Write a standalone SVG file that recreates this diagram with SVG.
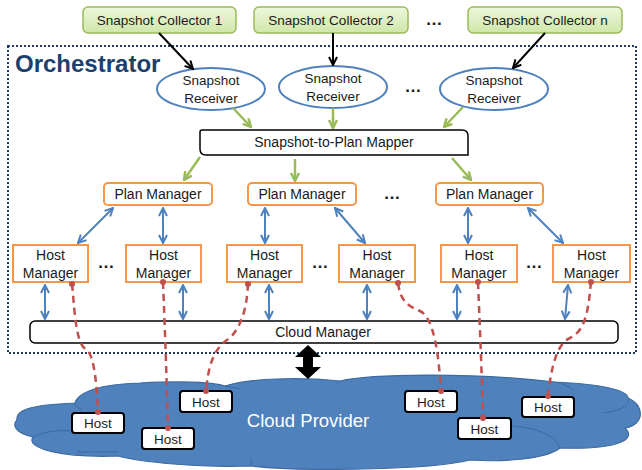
<svg xmlns="http://www.w3.org/2000/svg" width="642" height="470" viewBox="0 0 642 470">
<style>
text{font-family:"Liberation Sans",Arial,sans-serif;fill:#1a1a1a}
.t13{font-size:13.5px;text-anchor:middle}
.t14{font-size:14px;text-anchor:middle}
.col{fill:url(#gg);stroke:#9bbb59;stroke-width:1.5}
.rcv{fill:#fff;stroke:#4f81bd;stroke-width:2}
.pm{fill:#fff;stroke:#f79646;stroke-width:2}
.box{fill:#fff;stroke:#000;stroke-width:1.5}
.host{fill:#fff;stroke:#000;stroke-width:2}
.blk{stroke:#000;stroke-width:2;fill:none;marker-end:url(#mk)}
.grn{stroke:#9bbb59;stroke-width:2.5;fill:none;marker-end:url(#mg)}
.blu{stroke:#4f81bd;stroke-width:2;fill:none;marker-start:url(#mb);marker-end:url(#mb)}
.red{stroke:#c0504d;stroke-width:2.5;fill:none;stroke-dasharray:7 5}
.dot{fill:#c0504d}
.dots{font-size:17px;font-weight:bold;text-anchor:middle}
</style>
<defs>
<linearGradient id="gg" x1="0" y1="0" x2="0" y2="1">
<stop offset="0" stop-color="#eef7dc"/>
<stop offset="1" stop-color="#cfe6a8"/>
</linearGradient>
<marker id="mk" viewBox="0 0 10 10" refX="9" refY="5" markerWidth="10" markerHeight="10" markerUnits="userSpaceOnUse" orient="auto-start-reverse">
<path d="M1,1 L9,5 L1,9" fill="none" stroke="#000" stroke-width="2"/>
</marker>
<marker id="mg" viewBox="0 0 10 10" refX="9" refY="5" markerWidth="10" markerHeight="10" markerUnits="userSpaceOnUse" orient="auto-start-reverse">
<path d="M1,1 L9,5 L1,9" fill="none" stroke="#9bbb59" stroke-width="2.5"/>
</marker>
<marker id="mb" viewBox="0 0 10 10" refX="9" refY="5" markerWidth="10" markerHeight="10" markerUnits="userSpaceOnUse" orient="auto-start-reverse">
<path d="M1,1 L9,5 L1,9" fill="none" stroke="#4f81bd" stroke-width="2"/>
</marker>
</defs>
<rect width="642" height="470" fill="#fff"/>

<!-- Cloud -->
<g id="cloud">
<path d="M17,420 C15,410 30,405 75,403 C78,392 100,384 140,383 C180,381 210,382 225,386 C250,378 300,377 340,381 C370,374 470,372 555,382 C600,384 628,390 628,398 C645,405 645,425 625,428 C638,440 615,450 560,448 C545,460 500,462 470,460 C430,470 300,472 250,466 C200,468 140,462 118,456 C60,458 25,448 33,437 C15,433 12,425 17,420 Z" fill="#4f81bd" stroke="#3d6aa0" stroke-width="1.2"/>
<path d="M33,437 C45,431 60,430 70,431" fill="none" stroke="#3d6aa0" stroke-width="1"/>
<path d="M77,452 L118,452" fill="none" stroke="#3d6aa0" stroke-width="1"/>
<path d="M75,403 C75,406 78,408 82,410" fill="none" stroke="#3d6aa0" stroke-width="1"/>
<path d="M225,386 C230,387 236,388 240,389" fill="none" stroke="#3d6aa0" stroke-width="1"/>
<path d="M340,381 C338,383 338,384 339,385" fill="none" stroke="#3d6aa0" stroke-width="1"/>
<path d="M555,382 C562,384 570,386 573,390" fill="none" stroke="#3d6aa0" stroke-width="1"/>
<path d="M628,398 C630,404 625,410 603,413" fill="none" stroke="#3d6aa0" stroke-width="1"/>
<path d="M513,426 C535,428 555,434 560,448" fill="none" stroke="#3d6aa0" stroke-width="1"/>
<path d="M250,458 C252,462 252,464 250,466" fill="none" stroke="#3d6aa0" stroke-width="1"/>
<text x="308" y="427" style="font-size:18.5px;text-anchor:middle;fill:#fff">Cloud Provider</text>
</g>

<!-- Orchestrator frame -->
<g id="orchestrator">
<rect x="8" y="46" width="628" height="307" fill="none" stroke="#1f3864" stroke-width="2" stroke-dasharray="2 2"/>
<text x="15" y="72" style="font-size:24px;font-weight:bold;fill:#1c3f6e">Orchestrator</text>
</g>

<!-- Snapshot collectors -->
<g id="collector1"><rect class="col" x="83" y="7" width="153" height="26" rx="5"/><text class="t13" x="159.5" y="25">Snapshot Collector 1</text></g>
<g id="collector2"><rect class="col" x="254" y="7" width="154" height="26" rx="5"/><text class="t13" x="331" y="25">Snapshot Collector 2</text></g>
<text class="dots" x="434" y="25">…</text>
<g id="collectorN"><rect class="col" x="468" y="7" width="154" height="26" rx="5"/><text class="t13" x="545" y="25">Snapshot Collector n</text></g>

<!-- Receivers -->
<g id="receiver1"><ellipse class="rcv" cx="211" cy="89" rx="54" ry="21"/><text class="t13" x="211" y="85">Snapshot</text><text class="t13" x="211" y="103">Receiver</text></g>
<g id="receiver2"><ellipse class="rcv" cx="333" cy="87" rx="54" ry="21"/><text class="t13" x="333" y="83">Snapshot</text><text class="t13" x="333" y="101">Receiver</text></g>
<text class="dots" x="413" y="92">…</text>
<g id="receiverN"><ellipse class="rcv" cx="494" cy="89" rx="54" ry="21"/><text class="t13" x="494" y="85">Snapshot</text><text class="t13" x="494" y="103">Receiver</text></g>

<!-- Mapper -->
<g id="mapper"><path class="box" d="M202,130 L462,130 Q468,130 468,136 L468,155 L206,155 Q200,155 200,149 L200,132 Q200,130 202,130 Z"/><text class="t14" x="334" y="147">Snapshot-to-Plan Mapper</text></g>

<!-- Plan managers -->
<g id="pm1"><rect class="pm" x="104" y="183" width="108" height="22" rx="4"/><text class="t14" x="158" y="199">Plan Manager</text></g>
<g id="pm2"><rect class="pm" x="248" y="183" width="108" height="22" rx="4"/><text class="t14" x="302" y="199">Plan Manager</text></g>
<text class="dots" x="392" y="199">…</text>
<g id="pm3"><rect class="pm" x="436" y="183" width="107" height="22" rx="4"/><text class="t14" x="489.5" y="199">Plan Manager</text></g>

<!-- Host managers -->
<g id="hm1"><rect class="pm" x="13" y="245" width="75" height="37"/><text class="t14" x="50.5" y="260">Host</text><text class="t14" x="50.5" y="278">Manager</text></g>
<text class="dots" x="106" y="268">…</text>
<g id="hm2"><rect class="pm" x="126" y="245" width="75" height="37"/><text class="t14" x="163.5" y="260">Host</text><text class="t14" x="163.5" y="278">Manager</text></g>
<g id="hm3"><rect class="pm" x="227" y="245" width="75" height="37"/><text class="t14" x="264.5" y="260">Host</text><text class="t14" x="264.5" y="278">Manager</text></g>
<text class="dots" x="320" y="268">…</text>
<g id="hm4"><rect class="pm" x="339" y="245" width="76" height="37"/><text class="t14" x="377" y="260">Host</text><text class="t14" x="377" y="278">Manager</text></g>
<g id="hm5"><rect class="pm" x="441" y="245" width="76" height="37"/><text class="t14" x="479" y="260">Host</text><text class="t14" x="479" y="278">Manager</text></g>
<text class="dots" x="534" y="268">…</text>
<g id="hm6"><rect class="pm" x="553" y="245" width="77" height="37"/><text class="t14" x="591.5" y="260">Host</text><text class="t14" x="591.5" y="278">Manager</text></g>

<!-- Cloud manager -->
<g id="cloudManager"><rect class="box" x="30" y="321" width="588" height="22" rx="5"/><text class="t14" x="323" y="337">Cloud Manager</text></g>

<!-- Hosts -->
<g id="host1"><rect class="host" x="72" y="413" width="52" height="20" rx="3"/><text class="t13" x="98" y="428">Host</text></g>
<g id="host2"><rect class="host" x="142" y="428" width="52" height="21" rx="3"/><text class="t13" x="168" y="444">Host</text></g>
<g id="host3"><rect class="host" x="180" y="391" width="52" height="21" rx="3"/><text class="t13" x="206" y="407">Host</text></g>
<g id="host4"><rect class="host" x="405" y="391" width="52" height="21" rx="3"/><text class="t13" x="431" y="407">Host</text></g>
<g id="host5"><rect class="host" x="458" y="418" width="53" height="21" rx="3"/><text class="t13" x="484.5" y="434">Host</text></g>
<g id="host6"><rect class="host" x="522" y="397" width="52" height="20" rx="3"/><text class="t13" x="548" y="412">Host</text></g>

<!-- Connectors -->
<g id="connectors">
<line class="blk" x1="159" y1="33" x2="193" y2="69"/>
<line class="blk" x1="333" y1="33" x2="333" y2="65"/>
<line class="blk" x1="545" y1="33" x2="513" y2="68"/>

<line class="grn" x1="233" y1="108" x2="251" y2="127"/>
<line class="grn" x1="333" y1="108" x2="333" y2="128"/>
<line class="grn" x1="463" y1="107" x2="444" y2="127"/>
<line class="grn" x1="200" y1="157" x2="184" y2="180"/>
<line class="grn" x1="295" y1="159" x2="295" y2="181"/>
<line class="grn" x1="452" y1="158" x2="471" y2="180"/>

<line class="blu" x1="113" y1="208" x2="78" y2="243"/>
<line class="blu" x1="163" y1="208" x2="163" y2="243"/>
<line class="blu" x1="265" y1="208" x2="265" y2="243"/>
<line class="blu" x1="335" y1="208" x2="365" y2="243"/>
<line class="blu" x1="468" y1="208" x2="468" y2="243"/>
<line class="blu" x1="528" y1="208" x2="563" y2="243"/>

<line class="blu" x1="45" y1="285" x2="45" y2="319"/>
<line class="blu" x1="183" y1="285" x2="183" y2="319"/>
<line class="blu" x1="269" y1="285" x2="269" y2="319"/>
<line class="blu" x1="367" y1="285" x2="367" y2="319"/>
<line class="blu" x1="457" y1="285" x2="457" y2="319"/>
<line class="blu" x1="568" y1="285" x2="565" y2="319"/>

<polygon points="308,345 321,357 313,357 313,367 321,367 308,379 295,367 303,367 303,357 295,357" fill="#000"/>

<path class="red" d="M72,284 C74,300 75,345 86,349 C95,355 97,390 98,412"/>
<path class="red" d="M163,282 C165,330 167,390 168,428"/>
<path class="red" d="M248,284 C247,300 245,322 230,338 C212,348 208,370 206,391"/>
<path class="red" d="M398,283 C400,298 405,305 420,311 C435,318 439,360 441,391"/>
<path class="red" d="M478,282 C480,330 482,380 483,418"/>
<path class="red" d="M591,282 C589,300 588,330 570,338 C556,344 551,370 548,396"/>
<circle class="dot" cx="72" cy="284" r="3"/>
<circle class="dot" cx="98" cy="412" r="3"/>
<circle class="dot" cx="163" cy="282" r="3"/>
<circle class="dot" cx="168" cy="428" r="3"/>
<circle class="dot" cx="248" cy="284" r="3"/>
<circle class="dot" cx="206" cy="391" r="3"/>
<circle class="dot" cx="398" cy="283" r="3"/>
<circle class="dot" cx="441" cy="391" r="3"/>
<circle class="dot" cx="478" cy="282" r="3"/>
<circle class="dot" cx="483" cy="418" r="3"/>
<circle class="dot" cx="591" cy="282" r="3"/>
<circle class="dot" cx="548" cy="396" r="3"/>
</g>
</svg>
